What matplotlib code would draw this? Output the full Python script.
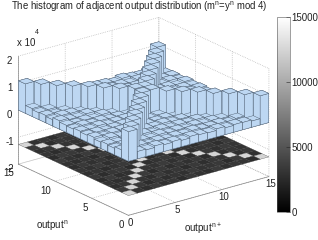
import numpy as np
import matplotlib
matplotlib.use('Agg')
import matplotlib.pyplot as plt
from matplotlib.cm import ScalarMappable
from matplotlib.colors import Normalize

plt.rcParams['font.family'] = ['Liberation Sans', 'DejaVu Sans']
plt.rcParams['mathtext.default'] = 'regular'

counts = [
 [11000,3000,2400,2700,2300,2900,2500,2800,2400,2600,3100,2300,2700,2500,2900,10900],
 [2700,10800,2800,2400,3000,2300,2700,2500,2900,2400,2600,3000,2300,2800,11000,2500],
 [2400,2900,10900,2600,2400,2800,2300,3000,2500,2700,2400,2900,2600,10800,2400,2800],
 [3000,2300,2700,11000,2500,2900,2600,2400,2800,2300,3000,2500,10900,2700,2900,2400],
 [2500,2800,2400,3000,10800,2300,2900,2700,2400,3000,2500,11000,2400,2600,2800,3000],
 [2800,2400,3000,2300,2700,10900,2500,2900,2600,2400,10800,2800,3000,2300,2500,2700],
 [2300,2700,2500,2900,2600,2400,11000,3000,2300,10900,2800,2500,2700,2900,2400,2600],
 [2900,2500,2800,2400,3000,2600,2300,10800,11100,2400,2700,2900,2500,2300,3000,2800],
 [2600,3000,2300,2800,2500,2900,2700,11000,10900,2500,2300,2800,3000,2400,2700,2900],
 [2400,2600,2900,2500,2800,2300,10800,2700,2400,11000,2900,2600,2300,3000,2500,2800],
 [3000,2700,2400,2900,2300,10900,2800,2500,3000,2600,10800,2400,2800,2500,2700,2300],
 [2500,2900,2800,2300,11000,2500,2700,3000,2400,2800,2500,10900,2900,2600,2300,3000],
 [2800,2300,2600,10800,2900,2700,2400,2500,2900,2300,3000,2700,11000,2400,2800,2500],
 [2700,3000,11000,2400,2500,2800,2900,2300,2600,3000,2400,2800,2500,10900,2900,2300],
 [2300,10900,2500,2800,3000,2400,2600,2900,2700,2500,2800,2300,3000,2600,10800,2700],
 [10800,2500,2900,2600,2700,3000,2300,2800,2500,2900,2600,3000,2400,2700,2500,11000],
]
axis_max = 15
bins = 16
floor_level = -12700
z_ticks = [-20000, -10000, 0, 10000, 20000]
z_labels = ['-2', '-1', '0', '1', '2']
xy_ticks = [0, 5, 10, 15]
cbar_ticks = [0, 5000, 10000, 15000]
title = 'The histogram of adjacent output distribution (m$^n$=y$^n$ mod 4)'
xlabel = 'output$^{n+}$'
ylabel = 'output$^n$'
bar_color = '#BDD7F2'

H = np.array(counts, float)
edges = np.linspace(0, axis_max, bins + 1)
step = edges[1] - edges[0]

W, Ht = 318, 240
fig = plt.figure(figsize=(W/100, Ht/100), dpi=100)
cx, cy, side = 140, 120, 270
ax = fig.add_axes([(cx-side/2)/W, 1-(cy+side/2)/Ht, side/W, side/Ht], projection='3d')
ax.patch.set_alpha(0)
ax.set_proj_type('ortho')
ax.view_init(elev=21, azim=-127.6)
ax.set_box_aspect((174, 177, 113.5), zoom=1.0)
ax.computed_zorder = False

ax.set_xlim(0, axis_max); ax.set_ylim(0, axis_max); ax.set_zlim(-20000, 20000)

gX, gY = np.meshgrid(edges, edges, indexing='ij')
ax.plot_surface(gX, gY, np.full_like(gX, floor_level), facecolors=plt.cm.gray(np.clip(H/13000, 0, 1)),
                rstride=1, cstride=1, shade=False, linewidth=0.2, edgecolor='#333333', antialiased=True, zorder=2)

cent = (edges[:-1] + edges[1:]) / 2
bw = step * 0.98
xx, yy = np.meshgrid(cent, cent, indexing='ij')
ax.bar3d(xx.ravel()-bw/2, yy.ravel()-bw/2, np.zeros(H.size), bw, bw, H.ravel(), color=bar_color,
         shade=False, edgecolor='#4a5a6c', linewidth=0.3, zorder=3)

ax.set_xticks(xy_ticks); ax.set_yticks(xy_ticks); ax.set_zticks(z_ticks); ax.set_zticklabels(z_labels)
for a, p in ((ax.xaxis, -6.5), (ax.yaxis, -5), (ax.zaxis, -4.5)):
    a.set_pane_color((1, 1, 1, 0))
    a.pane.set_edgecolor((1, 1, 1, 0))
    a.line.set_color('#888888'); a.line.set_linewidth(0.5)
    a._axinfo['grid'].update(color='#aaaaaa', linestyle=':', linewidth=0.5)
    a._axinfo['tick'].update(inward_factor=0, outward_factor=0)
    a.set_tick_params(labelsize=7, pad=p, colors='#222222')
ax.zaxis.set_ticks_position('upper')
for lbl in ax.yaxis.get_ticklabels():
    lbl.set_ha('right')

fig.text(52/W, 1-226/Ht, ylabel, fontsize=7, ha='center', va='center', color='#222222')
fig.text(203/W, 1-229/Ht, xlabel, fontsize=7, ha='center', va='center', color='#222222')
fig.text(139/W, 1-7/Ht, title, fontsize=6.9, ha='center', va='center', color='#222222')
fig.text(17/W, 1-43/Ht, 'x 10', fontsize=7, ha='left', va='center', color='#222222')
fig.text(35/W, 1-33/Ht, '4', fontsize=5, ha='left', va='center', color='#222222')

cax = fig.add_axes([277/W, 1-212/Ht, 13/W, 195/Ht])
cb = fig.colorbar(ScalarMappable(Normalize(0, 15000), 'gray'), cax=cax, ticks=cbar_ticks)
cb.ax.tick_params(direction='in', length=3, width=0.4, labelsize=7, pad=1, colors='#222222')
cb.outline.set_linewidth(0.4); cb.outline.set_edgecolor('#555555')

fig.savefig('out.png', dpi=100)
